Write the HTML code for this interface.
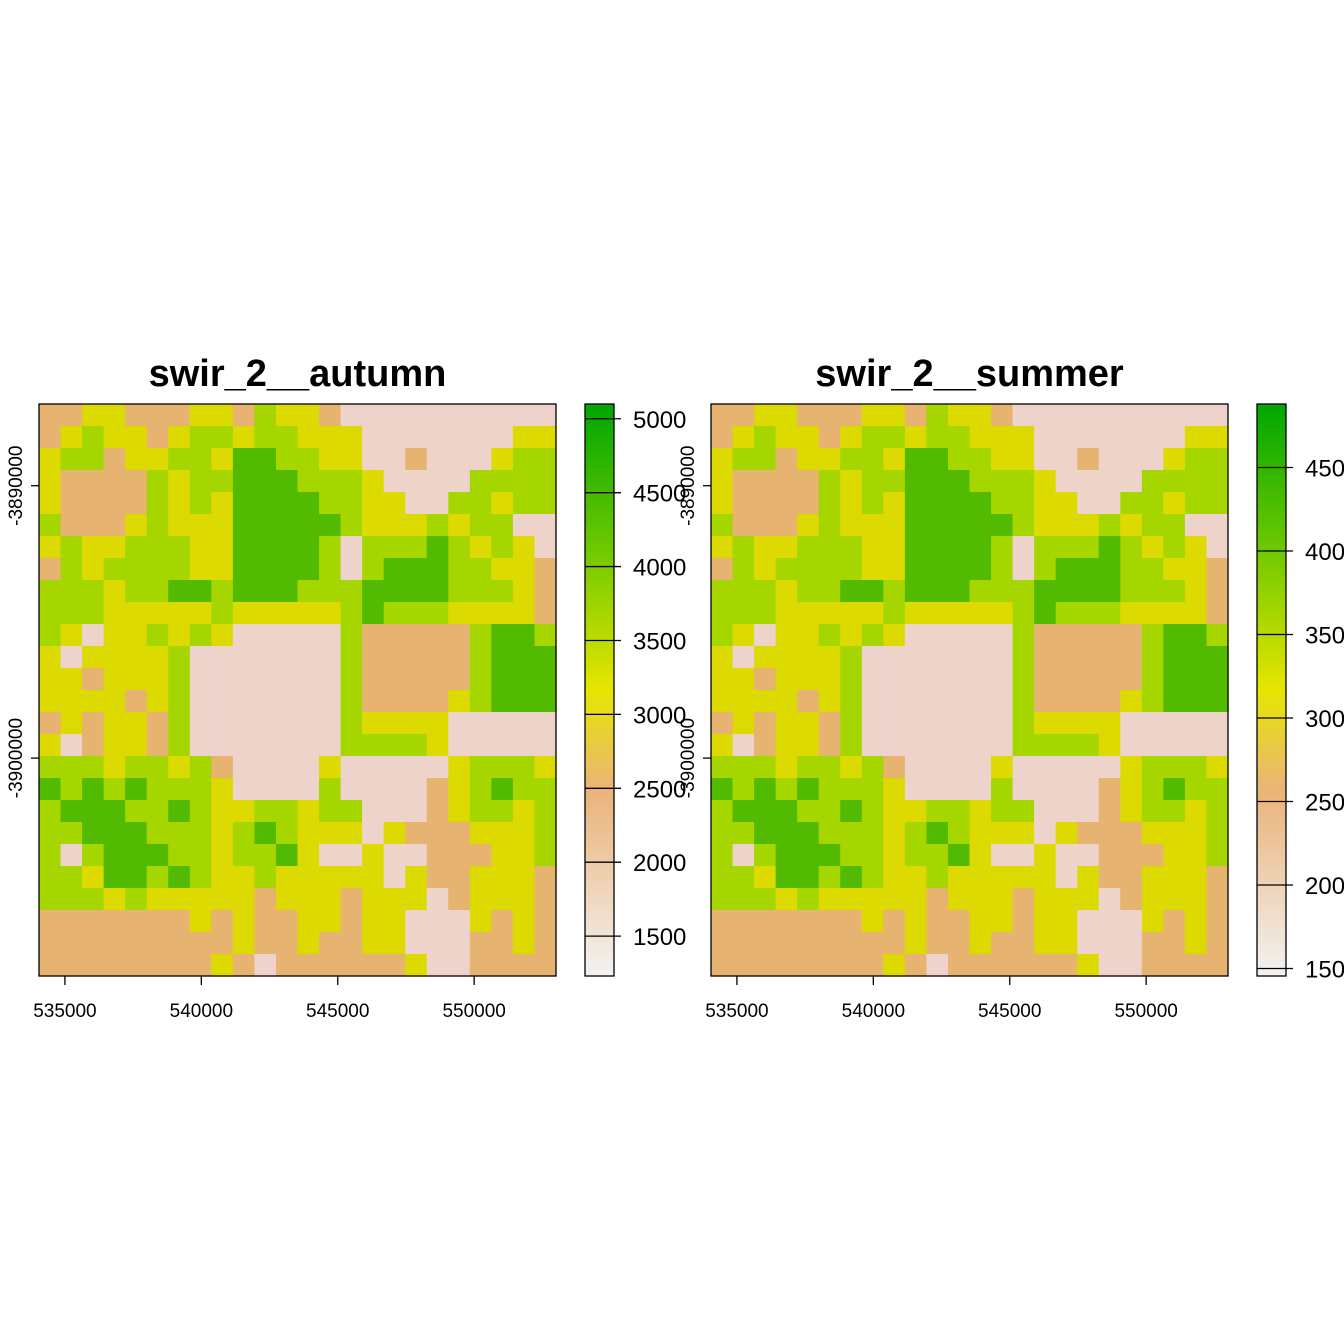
<!DOCTYPE html>
<html><head><meta charset="utf-8">
<style>
html,body{margin:0;padding:0;background:#fff;width:1344px;height:1344px;overflow:hidden}
svg{display:block;font-family:"Liberation Sans",Arial,sans-serif}
</style></head>
<body>
<svg id="chart" width="1344" height="1344" viewBox="0 0 1344 1344" xmlns="http://www.w3.org/2000/svg">
<defs>
<linearGradient id="terrain" x1="0" y1="0" x2="0" y2="1">
<stop offset="0" stop-color="#00A600"/>
<stop offset="0.25" stop-color="#6CC800"/>
<stop offset="0.5" stop-color="#E6E600"/>
<stop offset="0.68" stop-color="#EBB37A"/>
<stop offset="1" stop-color="#F2F2F2"/>
</linearGradient>
</defs>
</svg>
<script>
const panelTitles = ["swir_2__autumn", "swir_2__summer"];
const xTickValues = [535000, 540000, 545000, 550000];
const yTickValues = [-3890000, -3900000];
const legendTicksAutumn = [1500, 2000, 2500, 3000, 3500, 4000, 4500, 5000];
const legendTicksSummer = [1500, 2000, 2500, 3000, 3500, 4000, 4500];
const legendRangeAutumn = [1230, 5100];
const legendRangeSummer = [1455, 4880];
const xDomain = [534050, 553000];
const yDomain = [-3887000, -3908000];
const gridRows = [
"ooyyoooyyogyyopppppppppp",
"oygyyoyggyggyyypppppppyy",
"yggoyyggyGGggyyppopppygg",
"yoooogyggGGGgggyppppgggg",
"yoooogygyGGGGggyyppggygg",
"goooygyyyGGGGGgyyygyggpp",
"ygyygggyyGGGGgpgggGgygyp",
"ogyggggyyGGGGgpgGGGggyyo",
"gggyggGGgGGGgggGGGGgggyo",
"gggyyyyygyyyyygGgggyyyyo",
"gypyygygypppppgooooogGGg",
"ypyyyygpppppppgooooogGGG",
"yyoyyygpppppppgooooogGGG",
"yyyyoygpppppppgooooygGGG",
"oyoyyogpppppppgyyyyppppp",
"ypoyyogpppppppggggyppppp",
"gggyggygoppppypppppygggy",
"GgGgGgggyppppgppppoygGgg",
"gGGGggGgyyggyggpppoyggyg",
"ggGGGgggygGgyyypyoooyyyg",
"gpgGGGggyggGyppyppoooyyg",
"ggyGGgGgyygyyyyypyooyyyo",
"gggygyyyyyoyyyoyyypoyyyo",
"oooooooyoyooyyoyypppyoyo",
"oooooooooyooyooyypppooyo",
"ooooooooyopooooooyppoooo"
];
const classColors = {p:"#eed3cb", o:"#e6b470", y:"#dcda00", g:"#a6d600", G:"#52ba00"};

const NS = "http://www.w3.org/2000/svg";
const svg = document.getElementById("chart");
function mk(tag, attrs, parent){const e=document.createElementNS(NS,tag);for(const k in attrs)e.setAttribute(k,attrs[k]);(parent||svg).appendChild(e);return e;}

const PW = 517, PH = 572, PT = 404;
const panelLefts = [39, 711];
const legendLefts = [585, 1257];

panelTitles.forEach((title, pi) => {
  const L = panelLefts[pi];
  const xs = v => L + (v - xDomain[0]) / (xDomain[1] - xDomain[0]) * PW;
  const ys = v => PT + (v - yDomain[0]) / (yDomain[1] - yDomain[0]) * PH;
  const g = mk("g", {});
  
  
  const rows = gridRows.length, cols = gridRows[0].length;
  const cw = PW / cols, ch = PH / rows;
  gridRows.forEach((row, r) => {
    for (let c = 0; c < cols; c++) {
      const rc = mk("rect", {x: L + c*cw, y: PT + r*ch, width: cw + 0.6, height: ch + 0.6, fill: classColors[row[c]]}, g);
      
      
    }
  });
  const frame = mk("rect", {x: L, y: PT, width: PW, height: PH, fill: "none", stroke: "#000", "stroke-width": 1.3}, g);
  
  
  const t = mk("text", {x: L + PW/2, y: 386, "text-anchor": "middle", "font-size": 38, "font-weight": "bold"}, g);
  t.textContent = title;
  
  
  xTickValues.forEach(v => {
    const x = xs(v);
    const tk = mk("line", {x1: x, x2: x, y1: 976, y2: 985, stroke: "#000", "stroke-width": 1.3}, g);
    
    
    const tl = mk("text", {x: x, y: 1017, "text-anchor": "middle", "font-size": 19}, g);
    tl.textContent = v;
    
    
  });
  yTickValues.forEach(v => {
    const y = ys(v);
    const tk = mk("line", {x1: L - 8, x2: L, y1: y, y2: y, stroke: "#000", "stroke-width": 1.3}, g);
    
    
    const tl = mk("text", {x: 0, y: 0, "text-anchor": "middle", "font-size": 19, transform: `translate(${L-17},${y}) rotate(-90)`}, g);
    tl.textContent = v;
    
    
  });
  const LL = legendLefts[pi];
  const range = pi ? legendRangeSummer : legendRangeAutumn;
  const ticks = pi ? legendTicksSummer : legendTicksAutumn;
  const ls = v => 976 - (v - range[0]) / (range[1] - range[0]) * PH;
  const lg = mk("g", {}, g);
  
  
  const bar = mk("rect", {x: LL, y: PT, width: 29, height: PH, fill: "url(#terrain)", stroke: "#000", "stroke-width": 1.3}, lg);
  
  
  ticks.forEach(v => {
    const y = ls(v);
    const ln = mk("line", {x1: LL, x2: LL + 36, y1: y, y2: y, stroke: "#000", "stroke-width": 1.3}, lg);
    
    
    const tx = mk("text", {x: LL + 48, y: y + 9, "font-size": 24}, lg);
    tx.textContent = v;
    
    
  });
});
</script>
</body></html>
